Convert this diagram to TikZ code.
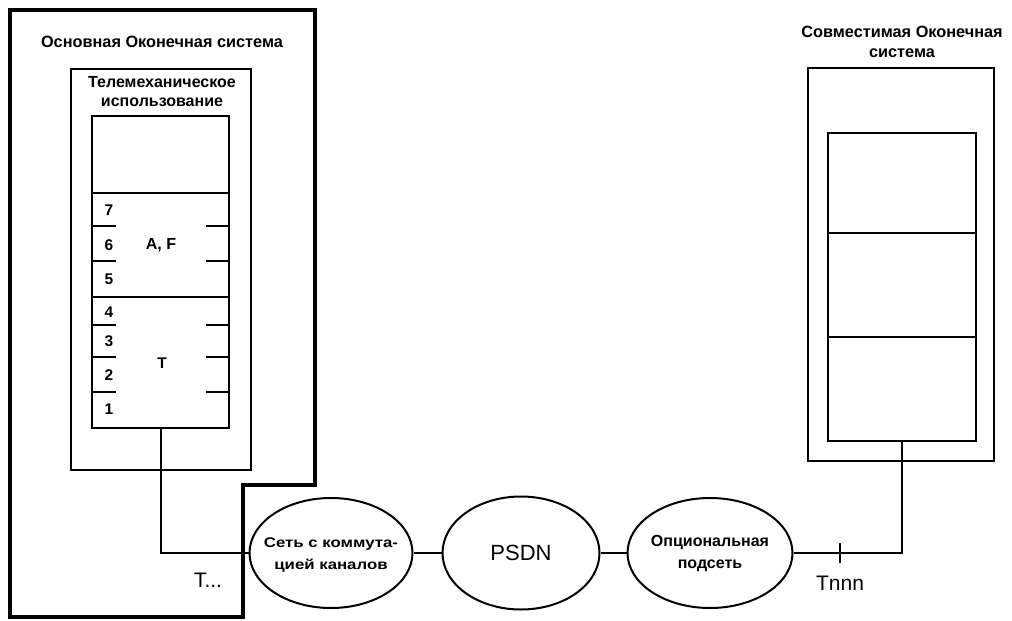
\documentclass[tikz,border=0pt]{standalone}
\usepackage{fontspec}
\setmainfont{Liberation Sans}
\newfontfamily\widesans[FakeStretch=1.2]{Liberation Sans}
\usetikzlibrary{shapes.geometric}
\begin{document}
\begin{tikzpicture}[x=1pt,y=-1pt,
  box/.style={draw, inner sep=0pt, anchor=north west},
  net/.style={draw, ellipse, line width=2pt, inner sep=0pt},
  netlbl/.style={inner sep=0pt, align=center, font=\bfseries\fontsize{14}{22}\selectfont},
  lbl/.style={inner sep=0pt, align=center, font=\bfseries\fontsize{16.3}{20}\selectfont},
  sublbl/.style={inner sep=0pt, align=center, font=\bfseries\fontsize{16}{19}\selectfont},
  num/.style={inner sep=0pt, font=\bfseries\fontsize{15.5}{16}\selectfont},
  big/.style={inner sep=0pt, font=\fontsize{21}{22}\selectfont},
  wire/.style={line width=2pt}]
\useasboundingbox (0,0) rectangle (1012,621);
% main end system outline
\draw[line width=4pt] (10,10) -- (315,10) -- (315,485) -- (243,485) -- (243,617) -- (10,617) -- cycle;
\node[lbl] (ttl) at (162,42) {Основная Оконечная система};
% telemechanics box
\node[box, line width=1.6pt, minimum width=180pt, minimum height=401pt] (lapp) at (70,68) {};
\node[sublbl] (tapp) at (162,92) {Телемеханическое\\использование};
% layer stack
\node[box, line width=2.2pt, minimum width=137pt, minimum height=312pt] (lstack) at (91,115) {};
\draw[line width=2.2pt] (91,193) -- (228,193);
\draw[line width=2.2pt] (91,297) -- (228,297);
\foreach \yy in {226,261,325,357,392}{
  \draw[line width=2pt] (91,\yy) -- (116,\yy);
  \draw[line width=2pt] (206,\yy) -- (228,\yy);
}
\node[num] (n7) at (109,210) {7};
\node[num] (n6) at (109,245) {6};
\node[num] (n5) at (109,279) {5};
\node[num] (n4) at (109,312) {4};
\node[num] (n3) at (109,341) {3};
\node[num] (n2) at (109,375) {2};
\node[num] (n1) at (109,409) {1};
\node[num, font=\bfseries\fontsize{16}{16}\selectfont] (af) at (161,245) {A, F};
\node[num] (tt) at (162,363) {T};
\node[big] (tdots) at (208,580) {T...};
% networks
\node[net, minimum width=163pt, minimum height=110pt] (e1) at (331,553) {};
\node[netlbl, font=\widesans\bfseries\fontsize{14}{21}\selectfont] (e1t) at (331,555) {Сеть с коммута-\\цией каналов};
\node[net, minimum width=157pt, minimum height=113pt] (e2) at (521,553) {};
\node[netlbl, font=\fontsize{22}{24}\selectfont] (e2t) at (521,553) {PSDN};
\node[net, minimum width=165pt, minimum height=110pt] (e3) at (710,553) {};
\node[netlbl, font=\bfseries\fontsize{16}{22}\selectfont] (e3t) at (710,554) {Опциональная\\подсеть};
% compatible end system
\node[lbl] (ttr) at (902,42) {Совместимая Оконечная\\система};
\node[box, line width=1.6pt, minimum width=186pt, minimum height=393pt] (rsys) at (807,67) {};
\node[box, line width=2.2pt, minimum width=148pt, minimum height=308pt] (rstack) at (827,132) {};
\draw[line width=2.2pt] (827,233) -- (975,233);
\draw[line width=2.2pt] (827,337) -- (975,337);
% connectors
\draw[wire] (lstack.south) |- (e1.west);
\draw[wire] (e1) -- (e2);
\draw[wire] (e2) -- (e3);
\draw[wire] (e3.east) -| (rstack.south);
\coordinate (tk) at (840,553);
\draw[line width=2.4pt] ([yshift=-10pt]tk) -- ([yshift=10pt]tk);
\node[big] (tn) at (840,583) {Tnnn};
\end{tikzpicture}
\end{document}
